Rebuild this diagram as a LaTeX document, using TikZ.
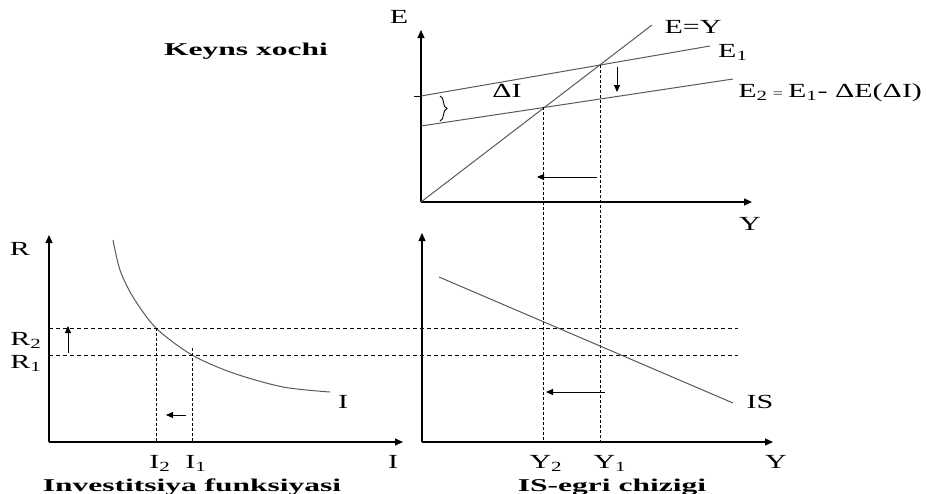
\documentclass[tikz,border=0pt]{standalone}
\usepackage{fontspec}
\setmainfont{Liberation Serif}
\usetikzlibrary{arrows.meta,positioning,decorations.pathreplacing}
\tikzset{
  axis/.style       = {-{Triangle[length=8pt,width=7pt]}, line width=1.1pt},
  curve/.style      = {black!65, line width=1pt},
  guide/.style      = {dash pattern=on 4pt off 3pt, line width=0.7pt},
  drop/.style       = {dash pattern=on 3pt off 2pt, line width=0.8pt},
  movearrow/.style  = {-{Triangle[length=7pt,width=6pt]}, line width=0.9pt},
  labelstyle/.style = {font=\fontsize{20}{20}\selectfont, inner sep=0pt, anchor=base, xscale=1.5},
  titlestyle/.style = {font=\fontsize{18}{18}\selectfont\bfseries, inner sep=0pt, anchor=base, xscale=1.75}
}

\begin{document}
\begin{tikzpicture}[x=1pt, y=-1pt]
    \useasboundingbox (0,0) rectangle (926,493);
    % Keynes cross: axes
    \coordinate (eO) at (421,202);
    \coordinate (eTop) at (421,30);
    \coordinate (eRight) at (752,202);
    \draw[axis] (eO) -- (eTop);
    \draw[axis] (eO) -- (eRight);
    % Keynes cross: lines
    \coordinate (eyEnd) at (652,25);
    \coordinate (e1Start) at (421,96);
    \coordinate (e1End) at (710,46);
    \coordinate (e2Start) at (421,126);
    \coordinate (e2End) at (733,79);
    \coordinate (e1Tick) at (414,96);
    \draw[curve] (eO) -- (eyEnd);
    \draw[curve] (e1Start) -- (e1End);
    \draw[curve] (e2Start) -- (e2End);
    \draw[line width=0.7pt] (e1Tick) -- (e1Start);
    % Equilibria and drops to the IS panel
    \coordinate (y1) at (600,65);
    \coordinate (y2) at (543,107);
    \coordinate (y1Foot) at (600,442);
    \coordinate (y2Foot) at (543,442);
    \draw[drop] (y1) -- (y1Foot);
    \draw[drop] (y2) -- (y2Foot);
    % Shift of E and of Y
    \coordinate (dnFrom) at (617,67);
    \coordinate (dnTo) at (617,92);
    \draw[movearrow] (dnFrom) -- (dnTo);
    \coordinate (ltFrom) at (597,177);
    \coordinate (ltTo) at (537,177);
    \draw[movearrow] (ltFrom) -- (ltTo);
    \coordinate (brTop) at (440,96);
    \coordinate (brBot) at (440,121);
    \draw[line width=0.9pt, decorate, decoration={brace, amplitude=7pt}] (brTop) -- (brBot);
    % Keynes cross: labels
    \node[labelstyle] (lE) at (399,23) {E};
    \node[labelstyle] (lEY) at (693,33) {E=Y};
    \node[labelstyle] (lE1) at (733,57) {E\textsubscript{1}};
    \node[labelstyle, anchor=base west] (lE2) at (738,97)
      {E\textsubscript{2}\,{\fontsize{12}{12}\selectfont=}\,E\textsubscript{1}- ΔE(ΔI)};
    \node[labelstyle] (lDI) at (507,97) {ΔI};
    \node[labelstyle] (lYtop) at (750,230) {Y};
    \node[titlestyle] (tKeyns) at (246,55) {Keyns xochi};

    % Investment function: axes
    \coordinate (iO) at (49,442);
    \coordinate (iTop) at (49,235);
    \coordinate (iRight) at (403,442);
    \draw[axis] (iO) -- (iTop);
    \draw[axis] (iO) -- (iRight);
    % Investment curve
    \draw[curve] plot[smooth] coordinates {(113,240) (120,270) (133,297) (156,328)
      (192,355) (233,373) (283,387) (330,392)};
    % Interest rates R2 and R1
    \coordinate (r2Start) at (49,328);
    \coordinate (r2End) at (738,328);
    \coordinate (r1Start) at (49,355);
    \coordinate (r1End) at (738,355);
    \draw[guide] (r2Start) -- (r2End);
    \draw[guide] (r1Start) -- (r1End);
    \coordinate (i2) at (156,328);
    \coordinate (i1) at (192,348);
    \coordinate (i2Foot) at (156,442);
    \coordinate (i1Foot) at (192,442);
    \draw[drop] (i2) -- (i2Foot);
    \draw[drop] (i1) -- (i1Foot);
    \coordinate (upFrom) at (68,353);
    \coordinate (upTo) at (68,326);
    \draw[movearrow] (upFrom) -- (upTo);
    \coordinate (ilFrom) at (186,415);
    \coordinate (ilTo) at (166,415);
    \draw[movearrow] (ilFrom) -- (ilTo);
    % Investment function: labels
    \node[labelstyle] (lR) at (20,255) {R};
    \node[labelstyle] (lR2) at (26,345) {R\textsubscript{2}};
    \node[labelstyle] (lR1) at (26,368) {R\textsubscript{1}};
    \node[labelstyle] (lI2) at (160,468) {I\textsubscript{2}};
    \node[labelstyle] (lI1) at (196,468) {I\textsubscript{1}};
    \node[labelstyle] (lIaxis) at (393,468) {I};
    \node[labelstyle] (lIcurve) at (343,408) {I};
    \node[titlestyle] (tInvest) at (192,491) {Investitsiya funksiyasi};

    % IS curve: axes
    \coordinate (sO) at (422,442);
    \coordinate (sTop) at (422,233);
    \coordinate (sRight) at (773,442);
    \draw[axis] (sO) -- (sTop);
    \draw[axis] (sO) -- (sRight);
    \coordinate (isStart) at (439,277);
    \coordinate (isEnd) at (733,403);
    \draw[curve] (isStart) -- (isEnd);
    \coordinate (slFrom) at (605,392);
    \coordinate (slTo) at (546,392);
    \draw[movearrow] (slFrom) -- (slTo);
    % IS curve: labels
    \node[labelstyle] (lY2) at (546,468) {Y\textsubscript{2}};
    \node[labelstyle] (lY1) at (610,468) {Y\textsubscript{1}};
    \node[labelstyle] (lYbot) at (776,468) {Y};
    \node[labelstyle] (lIS) at (760,408) {IS};
    \node[titlestyle] (tIS) at (612,491) {IS-egri chizigi};
  \end{tikzpicture}
\end{document}
